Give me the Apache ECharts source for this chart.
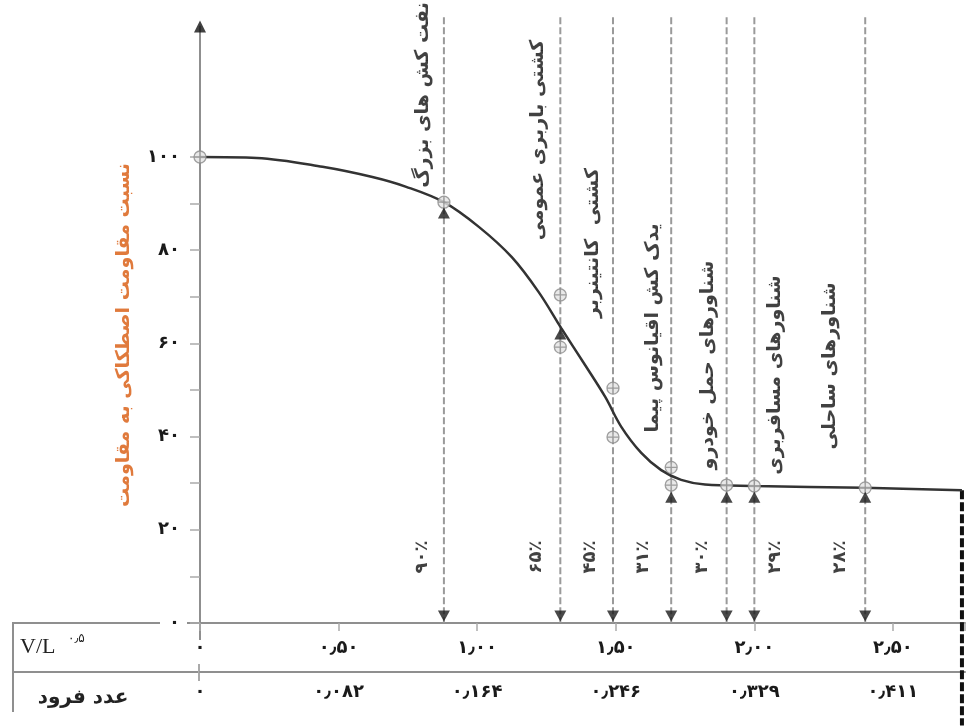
<!DOCTYPE html>
<html><head><meta charset="utf-8">
<script src="https://cdn.jsdelivr.net/npm/echarts@6/dist/echarts.min.js"></script>
<style>html,body{margin:0;padding:0;background:#fff}#c{width:968px;height:726px}</style>
</head><body><div id="c"></div>
<script>
// ---- data ----
const curveX = [0, 0.205, 0.442, 0.622, 0.744, 0.88, 1.006, 1.125, 1.222, 1.304, 1.391, 1.462, 1.52, 1.592, 1.664, 1.736, 1.822, 2.0, 2.397, 2.749];
const curveY = [100, 99.8, 97.9, 95.7, 93.6, 90.3, 85.0, 78.5, 71.0, 63.2, 55.2, 48.5, 42.1, 36.5, 32.8, 30.7, 29.7, 29.4, 29.0, 28.5];
const pointX = [0, 0.88, 1.30, 1.30, 1.49, 1.49, 1.70, 1.70, 1.90, 2.00, 2.40];
const pointY = [100, 90.3, 70.4, 59.2, 50.4, 39.9, 33.4, 29.6, 29.6, 29.4, 29.0];
const shipTypes = ['نفت کش های بزرگ', 'کشتی باربری عمومی', 'کشتی  کانتینربر', 'یدک کش اقیانوس پیما', 'شناورهای حمل خودرو', 'شناورهای مسافربری', 'شناورهای ساحلی'];
const shipX = [0.88, 1.30, 1.49, 1.70, 1.90, 2.00, 2.40];
const shipPercent = ['۹۰٪', '۶۵٪', '۴۵٪', '۳۱٪', '۳۰٪', '۲۹٪', '۲۸٪'];
const curveArrowY = [88, 62, null, 27, 27, 27, 27];
const xTickLabels = ['۰', '۰٫۵۰', '۱٫۰۰', '۱٫۵۰', '۲٫۰۰', '۲٫۵۰'];
const froudeLabels = ['۰', '۰٫۰۸۲', '۰٫۱۶۴', '۰٫۲۴۶', '۰٫۳۲۹', '۰٫۴۱۱'];
const yTickLabels = ['۰', '۲۰', '۴۰', '۶۰', '۸۰', '۱۰۰'];
const yTitle = 'نسبت مقاومت اصطکاکی به مقاومت';
const curveEnd = [2.749, 28.5];

// ---- layout (pixel offsets converted to axis units) ----
const PXX = 1 / 277.5, PXY = 1 / 4.66;
const nameDx = [-21, -22, -20, -18, -19, 21, -35];
const nameCy = [95, 140, 243, 328, 365, 375, 366];
const pctDx = [-22, -24, -23, -28, -24, 21, -25];
const pctCy = 557;
const toY = py => (623 - py) * PXY;
const Y_MAX = 128;

const FONT = 'DejaVu Sans';
const GRAY = '#8f8f8f';

const series = [];
// dashed vertical lines
shipX.forEach((x, i) => {
  series.push({
    type: 'line', clip: false, symbol: 'none', silent: true,
    data: [[x, 130], [x, 0]],
    lineStyle: { color: '#9a9a9a', width: 2, type: [7, 3] }, z: 1
  });
});
// right black dashed end line
series.push({
  type: 'line', clip: false, symbol: 'none', silent: true,
  data: [curveEnd, [curveEnd[0], -22]],
  lineStyle: { color: '#111', width: 4, type: [9, 3] }, z: 1
});
// curve
series.push({
  type: 'line', smooth: 0.35, symbol: 'none',
  data: curveX.map((x, i) => [x, curveY[i]]),
  lineStyle: { color: '#333', width: 2.5 }, z: 3
});
// data points
series.push({
  type: 'scatter', z: 4,
  symbol: 'path://M10,0A10,10,0,1,1,10,20A10,10,0,1,1,10,0ZM1,10L19,10M10,1L10,19',
  symbolSize: 12,
  itemStyle: { color: '#e4e4e4', borderColor: '#8a8a8a', borderWidth: 1.3 },
  data: pointX.map((x, i) => [x, pointY[i]])
});
// up triangles on curve
series.push({
  type: 'scatter', z: 5, symbol: 'triangle', symbolSize: [12, 11],
  itemStyle: { color: '#1a1a1a' },
  data: shipX.map((x, i) => curveArrowY[i] == null ? null : [x, curveArrowY[i]]).filter(d => d)
});
// down arrows at axis
series.push({
  type: 'scatter', z: 5, symbol: 'triangle', symbolRotate: 180, symbolSize: [12, 11],
  symbolOffset: [0, -7],
  itemStyle: { color: '#1a1a1a' },
  data: shipX.map(x => [x, 0])
});
// black arrow head on top of y axis
series.push({
  type: 'scatter', z: 6, symbol: 'triangle', symbolSize: [12, 12], clip: false, silent: true,
  itemStyle: { color: '#111' },
  data: [[0, Y_MAX]]
});
// ship type labels
series.push({
  type: 'scatter', z: 6, symbolSize: 1, itemStyle: { color: 'rgba(0,0,0,0)' }, silent: true,
  data: shipX.map((x, i) => [x + nameDx[i] * PXX, toY(nameCy[i])]),
  label: {
    show: true, position: 'inside', rotate: 90,
    formatter: p => shipTypes[p.dataIndex],
    fontFamily: FONT, fontSize: 19, fontWeight: 'bold', color: '#111'
  }
});
// percent labels
series.push({
  type: 'scatter', z: 6, symbolSize: 1, itemStyle: { color: 'rgba(0,0,0,0)' }, silent: true,
  data: shipX.map((x, i) => [x + pctDx[i] * PXX, toY(pctCy)]),
  label: {
    show: true, position: 'inside', rotate: 90,
    formatter: p => shipPercent[p.dataIndex],
    fontFamily: FONT, fontSize: 18, fontWeight: 'bold', color: '#111'
  }
});

const chart = echarts.init(document.getElementById('c'), null, { renderer: 'canvas' });
chart.setOption({
  backgroundColor: '#fff',
  animation: false,
  grid: { left: 200, right: 2, top: 26.5, bottom: 103, containLabel: false },
  xAxis: [{
    type: 'value', min: 0, max: 2.76, interval: 0.5,
    axisLine: { show: true, lineStyle: { color: GRAY, width: 2 } },
    axisTick: { show: true, length: 8, lineStyle: { color: '#aaa', width: 1.5 } },
    splitLine: { show: false },
    axisLabel: {
      margin: 16, fontFamily: FONT, fontSize: 18, fontWeight: 'bold', color: '#1a1a1a',
      formatter: v => { const i = Math.round(v / 0.5); return Math.abs(v - i * 0.5) < 1e-6 && xTickLabels[i] ? xTickLabels[i] : ''; }
    }
  }, {
    type: 'value', min: 0, max: 2.76, interval: 0.5, position: 'bottom', offset: 49,
    axisLine: { show: true, lineStyle: { color: GRAY, width: 2 } },
    axisTick: { show: false },
    splitLine: { show: false },
    axisLabel: {
      margin: 11, fontFamily: FONT, fontSize: 18, fontWeight: 'bold', color: '#1a1a1a',
      formatter: v => { const i = Math.round(v / 0.5); return Math.abs(v - i * 0.5) < 1e-6 && froudeLabels[i] ? froudeLabels[i] : ''; }
    }
  }],
  yAxis: {
    type: 'value', min: 0, max: Y_MAX, interval: 10,
    axisLine: { show: true, lineStyle: { color: GRAY, width: 2 } },
    axisTick: { show: true, length: 10, customValues: [0, 10, 20, 30, 40, 50, 60, 70, 80, 90, 100], lineStyle: { color: '#aaa', width: 1.5 } },
    splitLine: { show: false },
    axisLabel: {
      margin: 20, fontFamily: FONT, fontSize: 18, fontWeight: 'bold', color: '#1a1a1a',
      customValues: [0, 20, 40, 60, 80, 100],
      formatter: v => yTickLabels[Math.round(v / 20)] || ''
    }
  },
  graphic: [
    { type: 'text', x: 124, y: 335, rotation: Math.PI / 2,
      style: { text: yTitle, fontFamily: FONT, fontSize: 19, fontWeight: 'bold', fill: '#e07a3c', align: 'center', verticalAlign: 'middle' } },
    { type: 'line', shape: { x1: 13, y1: 623, x2: 160, y2: 623 }, style: { stroke: GRAY, lineWidth: 2 } },
    { type: 'line', shape: { x1: 187, y1: 623, x2: 200, y2: 623 }, style: { stroke: GRAY, lineWidth: 2 } },
    { type: 'line', shape: { x1: 13, y1: 672, x2: 200, y2: 672 }, style: { stroke: GRAY, lineWidth: 2 } },
    { type: 'line', shape: { x1: 13, y1: 622, x2: 13, y2: 712 }, style: { stroke: GRAY, lineWidth: 2 } },
    { type: 'line', shape: { x1: 200, y1: 623, x2: 200, y2: 640 }, style: { stroke: GRAY, lineWidth: 2 } },
    { type: 'line', shape: { x1: 199, y1: 664, x2: 199, y2: 681 }, style: { stroke: '#aaa', lineWidth: 2 } },
    { type: 'text', x: 20, y: 647, style: { text: 'V/L', fontFamily: 'Liberation Serif', fontSize: 22, fill: '#222', verticalAlign: 'middle' } },
    { type: 'text', x: 68, y: 639, style: { text: '۰٫۵', fontFamily: FONT, fontSize: 12, fill: '#222', verticalAlign: 'middle' } },
    { type: 'text', x: 83, y: 698, style: { text: 'عدد فرود', fontFamily: FONT, fontSize: 20, fontWeight: 'bold', fill: '#222', align: 'center', verticalAlign: 'middle' } }
  ],
  series: series
});
</script></body></html>
